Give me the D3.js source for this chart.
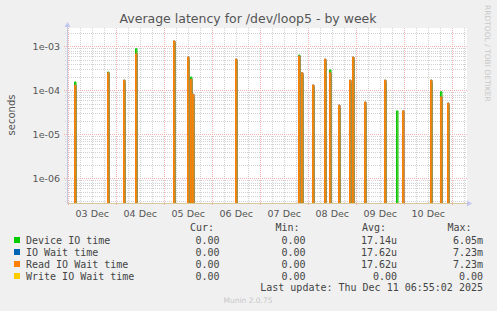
<!DOCTYPE html>
<html><head><meta charset="utf-8">
<script src="https://cdn.jsdelivr.net/npm/d3@7"></script>
<style>
html,body{margin:0;padding:0;background:#f0f0f0;}
svg{display:block;}
</style></head>
<body>
<script>
// ---- data ----
const spikeTimes = [
 "2025-12-03T03:00Z","2025-12-03T19:30Z","2025-12-04T03:30Z","2025-12-04T09:30Z",
 "2025-12-05T04:30Z","2025-12-05T11:30Z","2025-12-05T13:00Z","2025-12-05T14:00Z",
 "2025-12-06T11:30Z","2025-12-07T19:00Z","2025-12-07T20:30Z","2025-12-08T02:00Z",
 "2025-12-08T08:00Z","2025-12-08T10:30Z","2025-12-08T15:00Z","2025-12-08T20:30Z",
 "2025-12-08T22:00Z","2025-12-09T04:00Z","2025-12-09T14:00Z","2025-12-09T20:00Z",
 "2025-12-09T23:00Z","2025-12-10T13:00Z","2025-12-10T18:00Z","2025-12-10T21:30Z"];
const deviceIO = [1.55e-4,2.6e-4,1.5e-4,8.8e-4, 1.2e-3,5.0e-4,2.0e-4,7.0e-5,
  4.5e-4,6.3e-4,2.2e-4,1.2e-4, 4.5e-4,2.9e-4,4.0e-5,1.5e-4,
  5.0e-4,4.5e-5,1.5e-4,3.4e-5, 0,1.5e-4,9.3e-5,4.5e-5];
const ioWait = [1.3e-4,2.5e-4,1.7e-4,6.8e-4, 1.32e-3,5.7e-4,1.77e-4,8.1e-5,
  5.1e-4,6.0e-4,2.5e-4,1.32e-4, 5.1e-4,2.5e-4,4.6e-5,1.7e-4,
  5.7e-4,5.4e-5,1.7e-4,0, 3.4e-5,1.7e-4,7.1e-5,5.1e-5];
const readIOWait = [1.3e-4,2.5e-4,1.7e-4,6.8e-4, 1.32e-3,5.7e-4,1.77e-4,8.1e-5,
  5.1e-4,6.0e-4,2.5e-4,1.32e-4, 5.1e-4,2.5e-4,4.6e-5,1.7e-4,
  5.7e-4,5.4e-5,1.7e-4,0, 3.4e-5,1.7e-4,7.1e-5,5.1e-5];
const writeIOWait = [0,0,0,0,0,0,0,0,0,0,0,0,0,0,0,0,0,0,0,0,0,0,0,0];

const xTickDays = ["2025-12-03","2025-12-04","2025-12-05","2025-12-06","2025-12-07","2025-12-08","2025-12-09","2025-12-10"];
const xTickLabels = ["03 Dec","04 Dec","05 Dec","06 Dec","07 Dec","08 Dec","09 Dec","10 Dec"];
const yTickValues = [1e-6,1e-5,1e-4,1e-3];
const yTickLabels = ["1e-06","1e-05","1e-04","1e-03"];

const seriesNames = ["Device IO time","IO Wait time","Read IO Wait time","Write IO Wait time"];
const seriesColors = ["#00cc00","#0066b3","#ff8000","#ffcc00"];
const curVals = ["0.00","0.00","0.00","0.00"];
const minVals = ["0.00","0.00","0.00","0.00"];
const avgVals = ["17.14u","17.62u","17.62u","0.00"];
const maxVals = ["6.05m","7.23m","7.23m","0.00"];

// ---- layout ----
const W = 497, H = 311;
const L = 67, R = 467, T = 28, B = 203;
const svg = d3.select("body").append("svg").attr("width", W).attr("height", H)
  .style("font-family", "'DejaVu Sans', sans-serif");

svg.append("rect").attr("width", W).attr("height", H).attr("fill", "#f0f0f0");
svg.append("rect").attr("x", L).attr("y", T).attr("width", R - L).attr("height", B - T).attr("fill", "#ffffff");

const x = d3.scaleUtc()
  .domain([new Date("2025-12-02T23:21Z"), new Date("2025-12-11T07:21Z")])
  .range([L, R]);
const y = d3.scaleLog()
  .domain([Math.pow(10, -6.561), Math.pow(10, -2.584)])
  .range([B, T]);

const g = svg.append("g");
const minorX = d3.utcHour.every(6).range(x.domain()[0], x.domain()[1]).filter(d => d.getUTCHours() !== 0);
const majorX = d3.utcDay.range(x.domain()[0], x.domain()[1]);
const px = v => Math.round(v) + 0.5;

g.selectAll(".vmin").data(minorX).enter().append("line")
  .attr("x1", d => px(x(d))).attr("x2", d => px(x(d))).attr("y1", T).attr("y2", B)
  .attr("stroke", "#d2d2d2").attr("stroke-dasharray", "1,1").attr("stroke-width", 1);

const minorY = [];
for (let e = -7; e <= -3; e++) for (let k = 2; k <= 9; k++) {
  const v = k * Math.pow(10, e);
  if (v > y.domain()[0] && v < y.domain()[1]) minorY.push(v);
}
g.selectAll(".hmin").data(minorY).enter().append("line")
  .attr("x1", L - 2).attr("x2", R).attr("y1", d => px(y(d))).attr("y2", d => px(y(d)))
  .attr("stroke", "#d2d2d2").attr("stroke-dasharray", "1,1");

g.selectAll(".vmaj").data(majorX).enter().append("line")
  .attr("x1", d => px(x(d))).attr("x2", d => px(x(d))).attr("y1", T).attr("y2", B + 3)
  .attr("stroke", "#f2b0b0").attr("stroke-dasharray", "1,1");
g.selectAll(".hmaj").data(yTickValues).enter().append("line")
  .attr("x1", L - 3).attr("x2", R).attr("y1", d => px(y(d))).attr("y2", d => px(y(d)))
  .attr("stroke", "#f2b0b0").attr("stroke-dasharray", "1,1");

// ---- series ----
const sp = (t, v) => {
  const xx = px(x(new Date(t)));
  const yy = y(v);
  return `M${xx},${B} L${xx},${yy} L${xx + 1.5},${yy} L${xx + 1.5},${B}`;
};
function drawSeries(vals, color, fill) {
  const data = spikeTimes.map((t, i) => ({t, v: vals[i]})).filter(d => d.v > 0);
  g.append("g").selectAll("path").data(data).enter().append("path")
    .attr("d", d => sp(d.t, d.v))
    .attr("fill", fill).attr("stroke", color).attr("stroke-width", 1);
}
drawSeries(deviceIO, seriesColors[0], "#8fc060");
drawSeries(ioWait, seriesColors[1], "none");
drawSeries(readIOWait, seriesColors[2], "#b8903c");
// write IO wait (all zeros -> drawn at floor)
svg.append("line").attr("x1", L).attr("x2", R).attr("y1", B + 0.5).attr("y2", B + 0.5)
  .attr("stroke", "#d8c89a").attr("stroke-width", 1);

// axes
svg.append("line").attr("x1", L + 0.5).attr("x2", L + 0.5).attr("y1", T - 2).attr("y2", B + 1)
  .attr("stroke", "#c8c8dc");
svg.append("path").attr("d", `M${L - 2.5},${T - 1} L${L + 3.5},${T - 1} L${L + 0.5},${T - 6} Z`).attr("fill", "#c0c8f0");
svg.append("path").attr("d", `M${R},${B - 2.5} L${R},${B + 3.5} L${R + 5},${B + 0.5} Z`).attr("fill", "#c0c8f0");

// tick labels
svg.selectAll(".xl").data(xTickDays).enter().append("text")
  .attr("x", (d) => x(new Date(d + "T12:00Z")))
  .attr("y", 216.5).attr("text-anchor", "middle")
  .attr("font-size", "9.5px").attr("fill", "#555")
  .text((d, i) => xTickLabels[i]);
svg.selectAll(".yl").data(yTickValues).enter().append("text")
  .attr("x", 60).attr("y", d => y(d) + 3.5).attr("text-anchor", "end")
  .attr("font-size", "9.5px").attr("fill", "#555")
  .text((d, i) => yTickLabels[i]);

// title & labels
svg.append("text").attr("x", 248).attr("y", 23).attr("text-anchor", "middle")
  .attr("font-size", "12.5px").attr("fill", "#555").text("Average latency for /dev/loop5 - by week");
svg.append("text").attr("transform", "translate(15,115) rotate(-90)").attr("text-anchor", "middle")
  .attr("font-size", "10px").attr("fill", "#555").text("seconds");
svg.append("text").attr("transform", "translate(485,5) rotate(90)").attr("text-anchor", "start")
  .attr("font-size", "7.5px").attr("fill", "#c8c8c8").text("RRDTOOL / TOBI OETIKER");

// legend
const mono = "'DejaVu Sans Mono', monospace";
const lg = svg.append("g").style("font-family", mono).attr("font-size", "10px").attr("fill", "#444");
const hdrX = [190, 275.5, 362, 447.5];
["Cur:","Min:","Avg:","Max:"].forEach((h, i) => {
  lg.append("text").attr("x", hdrX[i]).attr("y", 231).text(h);
});
const colEnd = [219.5, 305.5, 397, 483];
seriesNames.forEach((n, i) => {
  const cy = 240 + i * 12;
  lg.append("rect").attr("x", 14).attr("y", cy - 3).attr("width", 6).attr("height", 6).attr("fill", seriesColors[i]);
  lg.append("text").attr("x", 26).attr("y", cy + 3.5).text(n);
  [curVals, minVals, avgVals, maxVals].forEach((arr, j) => {
    lg.append("text").attr("x", colEnd[j]).attr("y", cy + 3.5).attr("text-anchor", "end").text(arr[i]);
  });
});
lg.append("text").attr("x", 483).attr("y", 291).attr("text-anchor", "end")
  .text("Last update: Thu Dec 11 06:55:02 2025");
svg.append("text").attr("x", 248).attr("y", 303).attr("text-anchor", "middle")
  .attr("font-size", "7.5px").attr("fill", "#c8c8c8").text("Munin 2.0.75");
</script>
</body></html>
